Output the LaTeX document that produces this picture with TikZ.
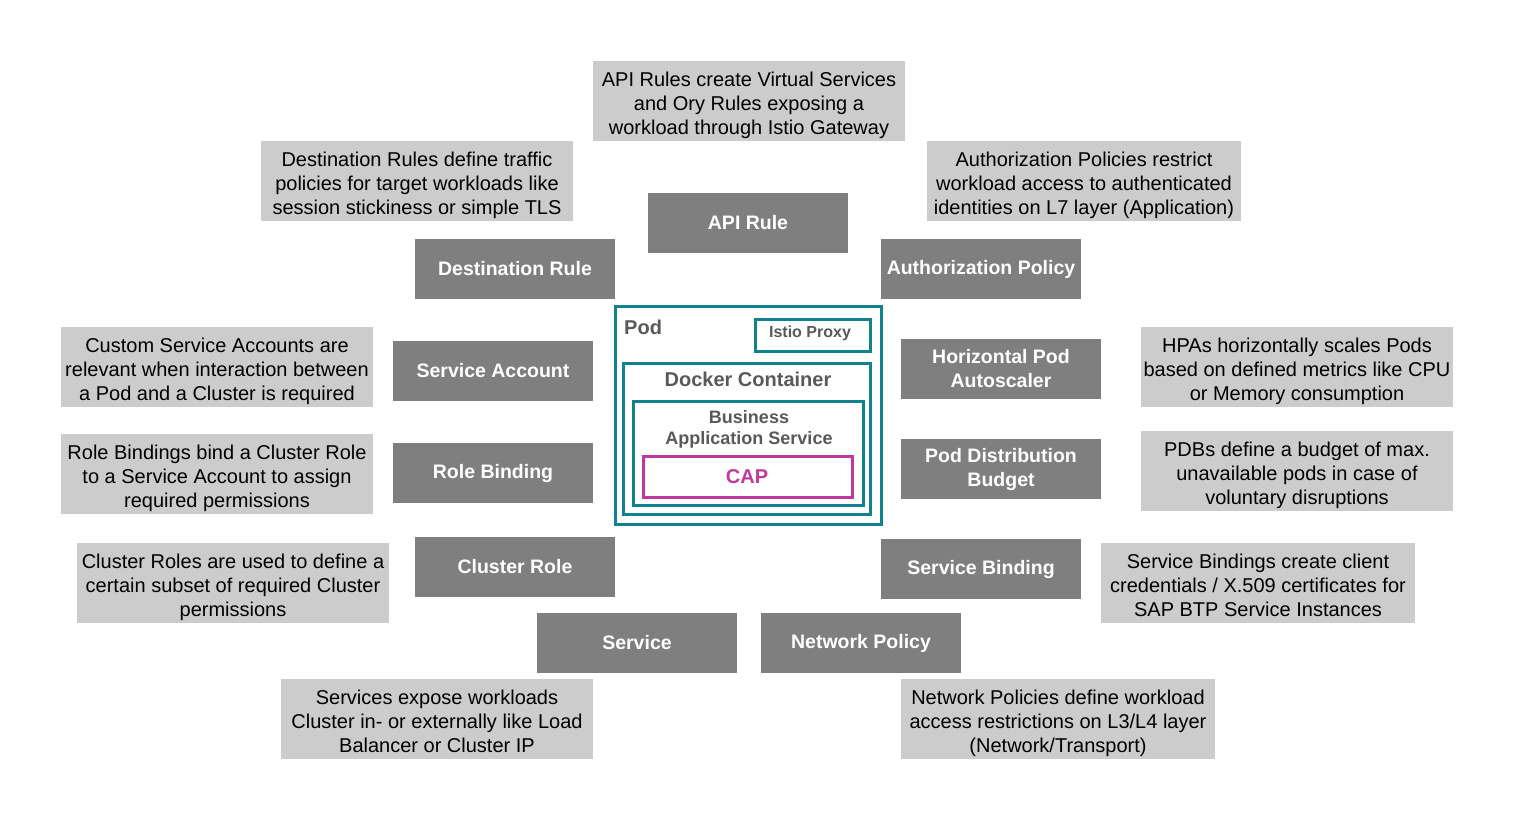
\documentclass[tikz,border=0pt]{standalone}
\usepackage{fontspec}
\setmainfont{Liberation Sans}
\definecolor{darkbox}{RGB}{127,127,127}
\definecolor{lightbox}{RGB}{204,204,204}
\definecolor{podteal}{RGB}{18,130,140}
\definecolor{capmag}{RGB}{192,57,160}
\definecolor{podtext}{RGB}{89,89,89}
\tikzset{
  desc/.style={fill=lightbox, draw=none, inner sep=0pt, minimum width=312pt, minimum height=80pt, align=center, text=black, text height=66pt, text depth=0pt, font=\fontsize{20}{24}\selectfont},
  kind/.style={fill=darkbox, draw=none, inner sep=0pt, minimum width=200pt, minimum height=60pt, align=center, text=white, font=\fontsize{19.5}{24}\selectfont\bfseries},
  tealbox/.style={draw=podteal, line width=3pt, fill=none, inner sep=0pt},
  podlabel/.style={text=podtext, inner sep=0pt, align=center, font=\fontsize{20}{24}\selectfont\bfseries}
}
\begin{document}
\begin{tikzpicture}[x=1pt,y=-1pt]
\useasboundingbox (0,0) rectangle (1516,820);
\fill[white] (0,0) rectangle (1516,820);

% description boxes
\node[desc] (dapi) at (749,101) {API Rules create Virtual Services\\and Ory Rules exposing a\\workload through Istio Gateway};
\node[desc] (ddest) at (417,181) {Destination Rules define traffic\\policies for target workloads like\\session stickiness or simple TLS};
\node[desc, minimum width=314pt] (dauth) at (1084,181) {Authorization Policies restrict\\workload access to authenticated\\identities on L7 layer (Application)};
\node[desc] (dsa) at (217,367) {Custom Service Accounts are\\relevant when interaction between\\a Pod and a Cluster is required};
\node[desc] (dhpa) at (1297,367) {HPAs horizontally scales Pods\\based on defined metrics like CPU\\or Memory consumption};
\node[desc] (drb) at (217,474) {Role Bindings bind a Cluster Role\\to a Service Account to assign\\required permissions};
\node[desc] (dpdb) at (1297,471) {PDBs define a budget of max.\\unavailable pods in case of\\voluntary disruptions};
\node[desc] (dcr) at (233,583) {Cluster Roles are used to define a\\certain subset of required Cluster\\permissions};
\node[desc, minimum width=314pt] (dsb) at (1258,583) {Service Bindings create client\\credentials / X.509 certificates for\\SAP BTP Service Instances};
\node[desc] (dsvc) at (437,719) {Services expose workloads\\Cluster in- or externally like Load\\Balancer or Cluster IP};
\node[desc, minimum width=314pt] (dnp) at (1058,719) {Network Policies define workload\\access restrictions on L3/L4 layer\\(Network/Transport)};

% resource kind boxes
\node[kind] (kapi) at (748,223) {API Rule};
\node[kind] (kdest) at (515,269) {Destination Rule};
\node[kind] (kauth) at (981,269) {Authorization Policy};
\node[kind] (ksa) at (493,371) {Service Account};
\node[kind] (khpa) at (1001,369) {Horizontal Pod\\Autoscaler};
\node[kind] (krb) at (493,473) {Role Binding};
\node[kind] (kpdb) at (1001,469) {Pod Distribution\\Budget};
\node[kind] (kcr) at (515,567) {Cluster Role};
\node[kind] (ksb) at (981,569) {Service Binding};
\node[kind] (ksvc) at (637,643) {Service};
\node[kind] (knp) at (861,643) {Network Policy};

% pod
\node[tealbox, minimum width=266pt, minimum height=218pt] (pod) at (748,415.9) {};
\node[podlabel, anchor=west] (podlbl) at (624,327) {Pod};
\node[tealbox, minimum width=115.5pt, minimum height=32pt] (istio) at (812.75,335) {};
\node[podlabel, font=\fontsize{16}{19}\selectfont\bfseries] (istiolbl) at (810,333) {Istio Proxy};
\node[tealbox, minimum width=247.5pt, minimum height=151pt] (docker) at (746.75,438.5) {};
\node[podlabel] (dockerlbl) at (748,379) {Docker Container};
\node[tealbox, minimum width=230pt, minimum height=104pt] (business) at (748,453) {};
\node[podlabel, font=\fontsize{18}{21}\selectfont\bfseries] (businesslbl) at (749,429.5) {Business\\Application Service};
\node[draw=capmag, line width=3pt, inner sep=0pt, minimum width=209pt, minimum height=41pt] (cap) at (748.1,476.5) {};
\node[text=capmag, inner sep=0pt, font=\fontsize{20}{24}\selectfont\bfseries] (caplbl) at (747,477) {CAP};
\end{tikzpicture}
\end{document}
